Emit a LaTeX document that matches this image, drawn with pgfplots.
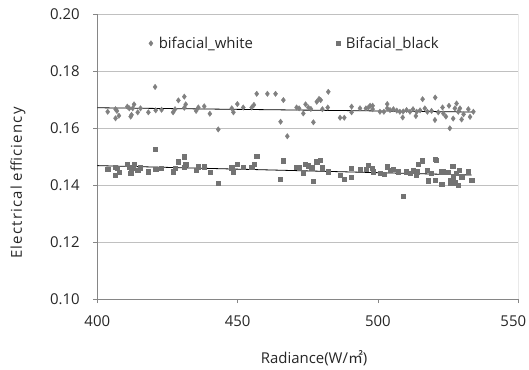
\documentclass[border=0pt]{standalone}
\usepackage{pgfplots}
\pgfplotsset{compat=1.18}
\usepackage{fontspec}
\setmainfont{Open Sans}
\newfontfamily\cjk{Noto Sans CJK KR}
\newfontfamily\ylabfont[LetterSpace=8]{Open Sans}
\definecolor{axgray}{HTML}{868686}
\definecolor{gridgray}{HTML}{C0C0C0}
\definecolor{wmark}{HTML}{808080}
\definecolor{bmark}{HTML}{737373}
\pgfplotstableread{
x y
403.7 0.1657
406.5 0.1666
407.0 0.1660
406.5 0.1634
407.7 0.1643
410.7 0.1675
411.4 0.1669
411.9 0.1640
412.2 0.1646
413.1 0.1683
412.6 0.1669
414.4 0.1655
415.4 0.1669
418.2 0.1655
420.6 0.1744
420.8 0.1662
422.9 0.1664
427.0 0.1655
427.7 0.1666
428.9 0.1697
431.0 0.1710
431.0 0.1671
431.5 0.1683
435.2 0.1660
436.0 0.1672
438.1 0.1676
440.1 0.1650
443.1 0.1595
447.9 0.1669
448.5 0.1655
449.9 0.1684
452.0 0.1672
455.0 0.1672
455.8 0.1681
456.8 0.1720
460.6 0.1720
463.5 0.1720
466.3 0.1698
465.3 0.1622
467.7 0.1571
471.0 0.1672
471.9 0.1669
473.4 0.1651
474.2 0.1683
475.2 0.1672
476.1 0.1667
477.0 0.1620
478.2 0.1692
479.0 0.1702
479.6 0.1698
480.2 0.1666
482.3 0.1727
482.1 0.1672
486.5 0.1636
488.0 0.1636
490.6 0.1675
490.6 0.1655
493.6 0.1669
495.7 0.1669
496.6 0.1672
497.2 0.1678
498.1 0.1678
498.1 0.1666
500.7 0.1657
502.1 0.1657
503.3 0.1684
503.3 0.1669
504.3 0.1663
505.5 0.1666
506.7 0.1661
507.8 0.1657
508.8 0.1637
509.0 0.1658
510.2 0.1663
511.4 0.1657
512.5 0.1666
513.5 0.1642
513.8 0.1657
515.0 0.1662
515.9 0.1701
516.7 0.1669
517.6 0.1657
519.1 0.1660
520.3 0.1628
520.4 0.1707
521.5 0.1655
523.0 0.1672
523.3 0.1651
524.2 0.1640
525.3 0.1678
525.6 0.1599
526.8 0.1633
527.4 0.1669
528.0 0.1686
528.6 0.1657
529.2 0.1669
529.8 0.1630
530.5 0.1648
532.2 0.1666
532.8 0.1639
534.0 0.1657
}\whitedata
\pgfplotstableread{
x y
403.7 0.1455
406.5 0.1463
407.0 0.1458
406.5 0.1433
407.7 0.1444
410.7 0.1473
411.4 0.1463
411.9 0.1442
412.2 0.1447
413.1 0.1473
412.6 0.1458
414.4 0.1453
415.4 0.1461
418.2 0.1447
420.6 0.1526
420.8 0.1455
422.9 0.1458
427.0 0.1447
427.7 0.1458
428.9 0.1482
431.0 0.1499
431.0 0.1463
431.5 0.1473
435.2 0.1451
436.0 0.1464
438.1 0.1464
440.1 0.1446
443.1 0.1406
447.9 0.1461
448.5 0.1447
449.9 0.1473
452.0 0.1463
455.0 0.1463
455.8 0.1473
456.8 0.1502
465.3 0.1420
466.3 0.1485
471.0 0.1462
471.9 0.1461
473.4 0.1443
474.2 0.1473
475.2 0.1468
476.4 0.1461
477.0 0.1414
478.2 0.1482
479.3 0.1486
480.2 0.1461
482.3 0.1447
486.5 0.1433
488.0 0.1420
490.6 0.1458
490.6 0.1427
493.6 0.1456
495.7 0.1456
496.6 0.1470
498.0 0.1458
498.3 0.1447
500.7 0.1441
502.1 0.1439
503.3 0.1464
504.3 0.1453
505.5 0.1456
507.2 0.1447
509.0 0.1361
510.2 0.1447
511.4 0.1441
512.5 0.1450
513.5 0.1435
513.8 0.1447
514.4 0.1473
515.9 0.1485
517.6 0.1453
518.0 0.1415
519.1 0.1441
520.3 0.1490
520.3 0.1418
520.7 0.1488
522.7 0.1447
523.3 0.1447
522.7 0.1404
525.1 0.1444
525.6 0.1418
525.9 0.1406
526.6 0.1467
526.8 0.1429
527.4 0.1408
528.0 0.1441
528.6 0.1400
529.0 0.1453
529.8 0.1429
532.2 0.1447
533.4 0.1418
}\blackdata
\begin{document}
\begin{tikzpicture}
\useasboundingbox (-97.3bp,-71bp) rectangle (431.7bp,299bp);
\begin{axis}[
  scale only axis, width=421bp, height=285bp,
  xmin=400, xmax=550, ymin=0.10, ymax=0.20,
  xtick={400,450,500},
  extra x ticks={550},
  extra x tick style={xticklabel style={xshift=-5bp}},
  ytick={0.10,0.12,0.14,0.16,0.18,0.20},
  /pgf/number format/assume math mode=true,
  tick label style={font=\fontsize{15}{18}\selectfont, text=black!85},
  xticklabel style={yshift=-9bp},
  yticklabel style={/pgf/number format/fixed, /pgf/number format/fixed zerofill,
    /pgf/number format/precision=2, xshift=-10bp},
  label style={font=\fontsize{15}{18}\selectfont, text=black!85},
  ymajorgrids, grid style={gridgray, line width=0.8bp},
  axis x line*=bottom, axis y line*=left,
  axis line style={axgray, line width=0.8bp, -},
  tick style={axgray, line width=0.8bp},
  tick align=outside, major tick length=4bp,
  xlabel={Radiance(W/{\cjk ㎡})},
  ylabel={{\ylabfont Electrical efficiency}},
  xlabel style={at={(axis description cs:0.515,-0.207)}, anchor=center},
  ylabel style={at={(axis description cs:-0.1884,0.407)}, anchor=center},
  legend columns=2,
  legend style={draw=none, fill=none, at={(axis description cs:0.115,0.897)}, anchor=west,
    font=\fontsize{15}{18}\selectfont, text=black!85,
    /tikz/every even column/.append style={column sep=81bp}},
  legend image code/.code={\draw[#1] plot coordinates {(0.1cm,0cm)}; \path (0.3cm,0cm);},
]
\addplot[only marks, mark=diamond*, mark size=2.7bp, mark options={fill=wmark, draw=wmark}] table[x=x,y=y] {\whitedata};
\addlegendentry{bifacial\_white}
\addplot[only marks, mark=square*, mark size=2.1bp, mark options={fill=bmark, draw=bmark}] table[x=x,y=y] {\blackdata};
\addlegendentry{Bifacial\_black}
\addplot[black, line width=0.8bp, no marks, forget plot] coordinates {(400,0.1671) (534,0.1656)};
\addplot[black, line width=0.8bp, no marks, forget plot] coordinates {(400,0.1468) (533.4,0.1435)};
\draw[gridgray, line width=0.8bp] (rel axis cs:1,0) -- (rel axis cs:1,1);
\end{axis}
\end{tikzpicture}
\end{document}
